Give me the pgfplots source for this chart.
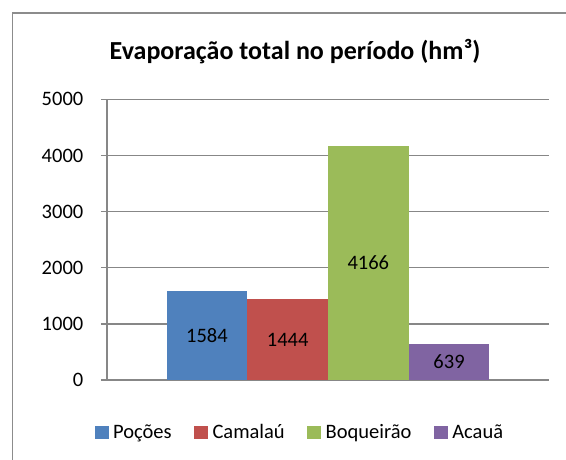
\documentclass[border=0pt]{standalone}
\usepackage{pgfplots}
\pgfplotsset{compat=1.18}
\usepackage{fontspec}
\setmainfont{Carlito}
\definecolor{cblue}{HTML}{4F81BD}
\definecolor{cred}{HTML}{C0504D}
\definecolor{cgreen}{HTML}{9BBB59}
\definecolor{cpurple}{HTML}{8064A2}
\definecolor{gridgray}{HTML}{878787}
\definecolor{framegray}{HTML}{8C8C8C}
\pgfplotsset{sq legend/.style={legend image code/.code={\fill[##1] (0pt,-6.85pt) rectangle (13.7pt,6.85pt);}}}
\begin{document}
\begin{tikzpicture}
\useasboundingbox (0pt,0pt) rectangle (566pt,459pt);
\draw[color=framegray, line width=1.7pt] (12.6pt,-10pt) -- (12.6pt,445.7pt) -- (600pt,445.7pt);
\node[anchor=base, font=\fontsize{26}{31}\selectfont\bfseries] at (295pt,399.5pt) {Evaporação total no período (hm³)};
\begin{axis}[
  at={(107pt,79pt)}, anchor=south west,
  width=442pt, height=280.7pt, scale only axis,
  xmin=-1, xmax=1, ymin=0, ymax=5000,
  ytick={0,1000,2000,3000,4000,5000},
  xtick=\empty,
  axis lines*=left,
  axis line style={draw=gridgray, line width=1.5pt},
  ymajorgrids, grid style={draw=gridgray, line width=1.5pt},
  tick align=outside, major tick length=6pt,
  tick style={draw=gridgray, line width=1.5pt},
  /pgf/number format/assume math mode=true,
  /pgf/number format/1000 sep={},
  yticklabel style={font=\fontsize{20.5}{24}\selectfont, inner sep=0pt, anchor=east, xshift=-17.5pt},
  ybar=0pt, bar width=80.7pt,
  clip=false,
  nodes near coords,
  visualization depends on={y \as \rawy},
  every node near coord/.append style={font=\fontsize{20.5}{24}\selectfont, anchor=center, text=black, shift={(axis direction cs:0,-\rawy/2)}},
  legend columns=4,
  legend style={draw=none, fill=none, font=\fontsize{20.5}{24}\selectfont,
    at={(axis description cs:0.4344,-0.187)}, anchor=center,
    inner sep=0pt, nodes={inner sep=0pt},
    /tikz/every odd column/.style={column sep=4.5pt},
    /tikz/every even column/.style={column sep=22.7pt}},
  legend cell align=left,
]
\addplot[fill=cblue, draw=none, sq legend] coordinates {(0,1584)};
\addlegendentry{Poções}
\addplot[fill=cred, draw=none, sq legend] coordinates {(0,1444)};
\addlegendentry{Camalaú}
\addplot[fill=cgreen, draw=none, sq legend] coordinates {(0,4166)};
\addlegendentry{Boqueirão}
\addplot[fill=cpurple, draw=none, sq legend] coordinates {(0,639)};
\addlegendentry{Acauã}
\end{axis}
\end{tikzpicture}
\end{document}
